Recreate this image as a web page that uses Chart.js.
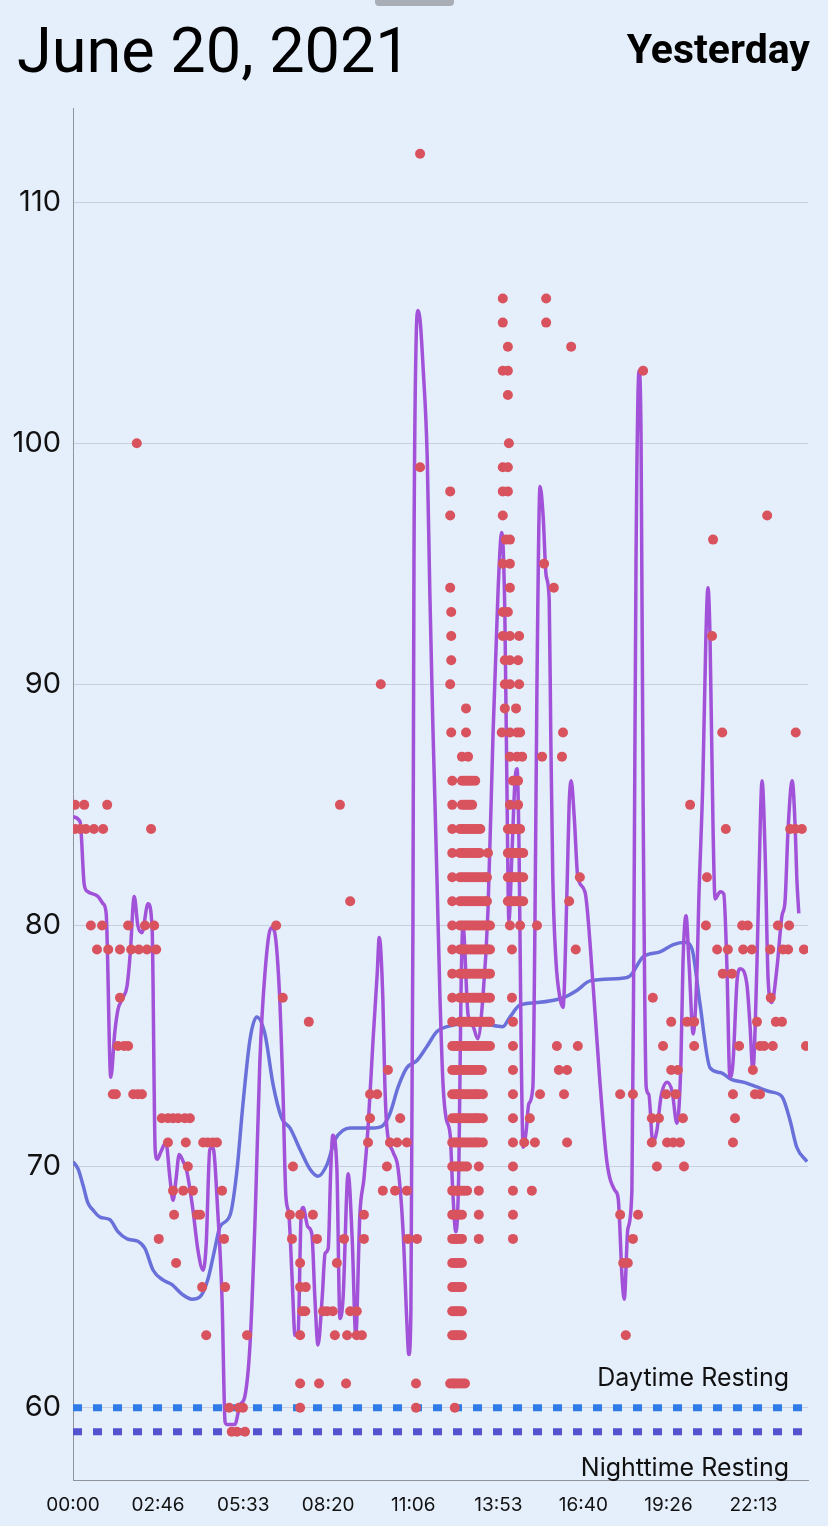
<!DOCTYPE html>
<html>
<head>
<meta charset="utf-8">
<script src="https://cdn.jsdelivr.net/npm/chart.js@4"></script>
<style>
html, body { margin: 0; padding: 0; background: #e5eefb; }
canvas { display: block; }
</style>
</head>
<body>
<canvas id="hrChart" width="828" height="1526"></canvas>
<script>
const dateTitle = 'June 20, 2021';
const dayLabel = 'Yesterday';

// x axis: minutes since midnight
const xTickMinutes = [0, 166.67, 333.33, 500, 666.67, 833.33, 1000, 1166.67, 1333.33];
const xTickLabels = ['00:00', '02:46', '05:33', '08:20', '11:06', '13:53', '16:40', '19:26', '22:13'];
const yTickValues = [60, 70, 80, 90, 100, 110];

const daytimeResting = 60;
const nighttimeResting = 59;

// heart rate samples, grouped by bpm row
const rowBpm = [112, 106, 105, 104, 103, 102, 100, 99, 98, 97, 96, 95, 94, 93, 92, 91, 90, 89, 88, 87, 86, 85, 84, 83, 82, 81, 80, 79, 78, 77, 76, 75, 74, 73, 72, 71, 70, 69, 68, 67, 66, 65, 64, 63, 61, 60, 59];
const rowMinutes = [
    [680],
    [842, 927],
    [842, 927],
    [852, 976],
    [842, 852, 1117],
    [852],
    [125, 854],
    [680, 842, 852],
    [739, 842, 852],
    [739, 842, 1360],
    [848, 856, 1254],
    [842, 856, 923],
    [739, 856, 942],
    [741, 842, 852],
    [741, 842, 856, 874, 1252],
    [741, 846, 856, 872],
    [603, 739, 846, 856, 874],
    [770, 846, 868],
    [741, 770, 840, 856, 870, 876, 960, 1272, 1416],
    [762, 774, 856, 870, 880, 919, 958],
    [743, 762, 767, 772, 777, 782, 788, 862, 872],
    [4, 22, 67, 523, 743, 762, 767, 772, 777, 782, 856, 872, 1209],
    [4, 14, 25, 41, 59, 153, 743, 758, 763, 768, 773, 778, 783, 788, 793, 798, 852, 857, 862, 866, 871, 876, 1279, 1405, 1415, 1428],
    [743, 758, 763, 768, 773, 778, 783, 788, 793, 797, 813, 852, 857, 862, 866, 871, 876, 882],
    [743, 758, 763, 768, 773, 778, 783, 788, 793, 798, 803, 808, 811, 852, 857, 862, 866, 871, 876, 882, 993, 1242],
    [543, 743, 758, 763, 768, 773, 778, 783, 788, 793, 798, 803, 808, 811, 852, 857, 862, 866, 871, 876, 882, 972],
    [35, 57, 108, 141, 159, 398, 743, 758, 763, 768, 773, 778, 783, 788, 793, 798, 803, 808, 813, 817, 856, 876, 909, 1240, 1311, 1322, 1381, 1403],
    [47, 69, 92, 114, 129, 145, 163, 743, 758, 763, 768, 773, 778, 783, 788, 793, 798, 803, 808, 813, 817, 860, 985, 1262, 1283, 1313, 1330, 1366, 1391, 1401, 1432],
    [743, 758, 763, 768, 773, 778, 783, 788, 793, 798, 803, 808, 813, 817, 1273, 1291],
    [92, 411, 743, 758, 763, 768, 773, 778, 783, 788, 793, 798, 803, 808, 813, 817, 860, 1136, 1367],
    [462, 743, 758, 763, 768, 773, 778, 783, 788, 793, 798, 803, 808, 813, 817, 862, 1172, 1203, 1217, 1340, 1377, 1389],
    [88, 100, 108, 743, 748, 752, 757, 762, 767, 772, 777, 782, 787, 791, 796, 801, 806, 811, 817, 862, 948, 989, 1156, 1217, 1305, 1346, 1354, 1371, 1436],
    [617, 743, 748, 752, 757, 762, 767, 772, 777, 782, 787, 791, 796, 801, 862, 952, 968, 1172, 1185, 1332],
    [78, 84, 118, 127, 135, 582, 596, 743, 748, 752, 757, 762, 767, 772, 777, 782, 787, 791, 796, 803, 862, 915, 962, 1072, 1097, 1162, 1181, 1293, 1336, 1346],
    [174, 186, 196, 206, 219, 229, 582, 641, 743, 748, 752, 757, 762, 767, 772, 777, 782, 787, 791, 796, 803, 862, 895, 1134, 1148, 1195, 1297],
    [186, 221, 255, 264, 274, 282, 578, 621, 635, 654, 743, 748, 752, 757, 762, 767, 772, 777, 782, 787, 791, 796, 803, 862, 884, 905, 968, 1134, 1164, 1176, 1189, 1293],
    [225, 431, 615, 743, 748, 752, 757, 762, 767, 772, 795, 862, 1144, 1197],
    [196, 216, 235, 292, 607, 631, 654, 743, 748, 752, 757, 762, 767, 772, 795, 862, 899],
    [198, 243, 249, 425, 445, 470, 570, 743, 748, 752, 757, 762, 795, 862, 1072, 1107],
    [168, 296, 429, 478, 531, 570, 656, 674, 743, 748, 752, 757, 762, 795, 862, 1097],
    [202, 445, 517, 743, 748, 752, 757, 762, 1078, 1087],
    [253, 298, 445, 456, 743, 748, 752, 757, 762],
    [449, 455, 490, 498, 509, 543, 556, 743, 748, 752, 757, 762],
    [261, 341, 445, 513, 537, 556, 566, 743, 748, 752, 757, 762, 1083],
    [445, 482, 535, 672, 739, 744, 748, 753, 758, 763, 768],
    [306, 325, 333, 445, 672, 748],
    [311, 321, 337]
];

// smoothed heart rate [minute, bpm]
const trendLine = [[0,84.5],[14,84.3],[22,81.7],[29,81.4],[49,81.2],[59,80.9],[65,80.5],[74,73.7],[82,75.6],[88,76.5],[98,77.0],[106,77.5],[112,78.8],[120,81.2],[127,80.0],[135,79.7],[147,80.9],[155,79.9],[161,70.7],[165,70.3],[172,70.6],[182,71.0],[190,69.5],[196,68.6],[202,69.5],[208,70.5],[216,70.2],[223,69.8],[235,68.2],[245,66.5],[255,65.7],[261,66.8],[268,70.7],[274,70.8],[284,68],[292,64.5],[298,59.4],[302,59.3],[317,59.3],[327,60.1],[337,60.5],[347,62.7],[357,68],[366,74.3],[376,78],[388,79.9],[394,79.8],[404,77.4],[411,73.4],[417,68.8],[423,68],[429,65.5],[435,63],[441,63.1],[447,68],[451,68.3],[460,67.5],[468,67.2],[474,64.5],[480,62.6],[488,64.5],[494,66.4],[500,66.6],[505,69.9],[509,71.3],[517,69.9],[523,63.7],[529,64.5],[539,69.7],[547,67],[554,63],[562,68],[570,69.5],[578,71.6],[588,75.3],[596,78],[600,79.5],[607,77],[611,73.4],[615,71.6],[627,70.6],[637,69.9],[647,67.2],[654,63.6],[658,62.2],[662,64],[666,80],[668,95],[672,104],[676,105.5],[680,105.1],[686,103.1],[694,99.4],[699,93.9],[705,88.3],[709,85.2],[713,82],[719,77],[725,73.4],[731,72],[739,71.3],[744,69],[750,67.3],[756,70],[760,77],[764,80],[774,76.3],[784,75.8],[793,75.3],[803,77],[813,80.6],[823,88],[833,94],[840,96.3],[846,93],[850,86],[854,80.2],[860,83],[866,86],[870,86.5],[874,83],[878,75],[882,70.8],[888,71.5],[893,72.6],[901,73.3],[905,80],[909,90],[915,98.2],[921,97],[927,94.5],[933,93.5],[936,88],[940,82],[946,78.6],[954,77],[960,76.6],[968,81.6],[972,85],[976,86],[982,84.5],[989,82],[1003,81.4],[1019,77.5],[1032,73.6],[1046,70.2],[1062,69],[1068,68.7],[1076,65.3],[1080,64.5],[1087,67.4],[1095,69],[1099,80],[1103,95],[1109,103],[1113,100],[1117,85],[1123,73.3],[1128,73],[1136,71],[1144,71.5],[1152,72.9],[1164,73.5],[1174,73.1],[1183,71.8],[1191,74.3],[1195,78.4],[1201,80.4],[1207,78.4],[1215,75.5],[1223,78.4],[1226,81],[1234,86],[1240,92],[1244,94],[1248,92],[1254,84],[1258,81.1],[1268,81.4],[1275,81.3],[1281,78.4],[1287,73.7],[1293,74.3],[1301,77.7],[1307,78.2],[1320,77.6],[1326,76],[1332,74],[1340,78.4],[1344,82],[1350,86],[1356,83],[1362,77.7],[1369,76.8],[1379,78.2],[1389,80.4],[1395,81],[1401,84],[1409,86],[1415,84],[1418,82],[1422,80.5]];

// running average [minute, bpm]
const averageLine = [[0,70.2],[10,69.9],[20,69.2],[29,68.5],[39,68.2],[53,67.9],[72,67.8],[88,67.3],[106,67],[127,66.9],[141,66.6],[157,65.7],[176,65.3],[194,65.1],[214,64.7],[233,64.5],[249,64.6],[264,65.3],[278,66.6],[288,67.5],[308,68],[321,69.8],[333,72.6],[347,75.3],[360,76.2],[376,75.5],[392,73.4],[409,72],[425,71.6],[445,70.7],[464,69.9],[480,69.6],[498,70.1],[513,71.1],[529,71.5],[543,71.6],[588,71.6],[607,71.7],[621,72.2],[637,73.3],[654,74.1],[674,74.4],[694,75],[713,75.6],[733,75.8],[754,75.9],[778,76.0],[811,75.9],[842,75.8],[856,76.2],[876,76.7],[909,76.8],[960,77.0],[987,77.3],[1013,77.7],[1072,77.8],[1091,77.9],[1117,78.7],[1150,78.9],[1176,79.2],[1199,79.3],[1213,79.0],[1228,76.8],[1248,74.1],[1268,73.9],[1291,73.6],[1313,73.5],[1340,73.3],[1366,73.1],[1389,72.9],[1405,71.9],[1418,70.8],[1438,70.2]];

const readings = [];
rowBpm.forEach(function(bpm, i) {
    rowMinutes[i].forEach(function(m) { readings.push({x: m, y: bpm}); });
});
const toPoints = pairs => pairs.map(p => ({x: p[0], y: p[1]}));

const decor = {
    id: 'decor',
    beforeDraw(chart) {
        const c = chart.ctx;
        c.save();
        c.fillStyle = '#e5eefb';
        c.fillRect(0, 0, chart.width, chart.height);
        c.fillStyle = '#a9adb5';
        c.beginPath();
        c.roundRect(375, -5, 79, 11, 4);
        c.fill();
        c.fillStyle = '#000';
        c.textBaseline = 'alphabetic';
        c.textAlign = 'left';
        c.font = '400 63px Roboto';
        c.fillText(dateTitle, 17, 72);
        c.textAlign = 'right';
        c.font = '700 41px Roboto';
        c.fillText(dayLabel, 810, 63);
        c.restore();
    },
    afterDatasetsDraw(chart) {
        const c = chart.ctx, y = chart.scales.y, area = chart.chartArea;
        c.save();
        c.fillStyle = '#111';
        c.textAlign = 'right';
        c.textBaseline = 'alphabetic';
        c.font = '400 25px Inter';
        c.fillText('Daytime Resting', area.right - 19, y.getPixelForValue(daytimeResting) - 22);
        c.fillText('Nighttime Resting', area.right - 19, y.getPixelForValue(nighttimeResting) + 44);
        c.restore();
    }
};

new Chart(document.getElementById('hrChart').getContext('2d'), {
    type: 'scatter',
    data: {
        datasets: [{
            type: 'scatter',
            data: readings,
            pointRadius: 5,
            pointBackgroundColor: '#d9535f',
            pointBorderWidth: 0,
            order: 0
        }, {
            type: 'line',
            data: toPoints(trendLine),
            borderColor: '#a152d8',
            borderWidth: 3.5,
            pointRadius: 0,
            cubicInterpolationMode: 'monotone',
            order: 1
        }, {
            type: 'line',
            data: toPoints(averageLine),
            borderColor: '#6a70d9',
            borderWidth: 3.5,
            pointRadius: 0,
            cubicInterpolationMode: 'monotone',
            order: 2
        }, {
            type: 'line',
            data: [{x: 0, y: daytimeResting}, {x: 1440, y: daytimeResting}],
            borderColor: '#2f7be8',
            borderWidth: 7,
            borderDash: [9, 11],
            pointRadius: 0,
            order: 3
        }, {
            type: 'line',
            data: [{x: 0, y: nighttimeResting}, {x: 1440, y: nighttimeResting}],
            borderColor: '#5352cf',
            borderWidth: 7,
            borderDash: [9, 11],
            pointRadius: 0,
            order: 3
        }]
    },
    options: {
        responsive: false,
        animation: false,
        layout: { padding: { top: 108, right: 20, left: 0, bottom: 0 } },
        plugins: { legend: { display: false }, tooltip: { enabled: false } },
        scales: {
            x: {
                type: 'linear',
                min: 0,
                max: 1440,
                afterBuildTicks: s => { s.ticks = xTickMinutes.map(v => ({value: v})); },
                afterFit: s => { s.height = 46; },
                grid: { display: false },
                border: { display: true, color: '#8e939c', width: 1 },
                ticks: {
                    autoSkip: false,
                    maxRotation: 0,
                    padding: 6,
                    color: '#111',
                    font: { family: 'Inter', size: 19 },
                    callback: (v, i) => xTickLabels[i]
                }
            },
            y: {
                min: 57,
                max: 113.9,
                afterBuildTicks: s => { s.ticks = yTickValues.map(v => ({value: v})); },
                afterFit: s => { s.width = 73; },
                grid: { color: '#c8cfe0', lineWidth: 1, drawTicks: false },
                border: { display: true, color: '#8e939c', width: 1 },
                ticks: {
                    padding: 12,
                    color: '#111',
                    font: { family: 'Inter', size: 29 }
                }
            }
        }
    },
    plugins: [decor]
});
</script>
</body>
</html>
